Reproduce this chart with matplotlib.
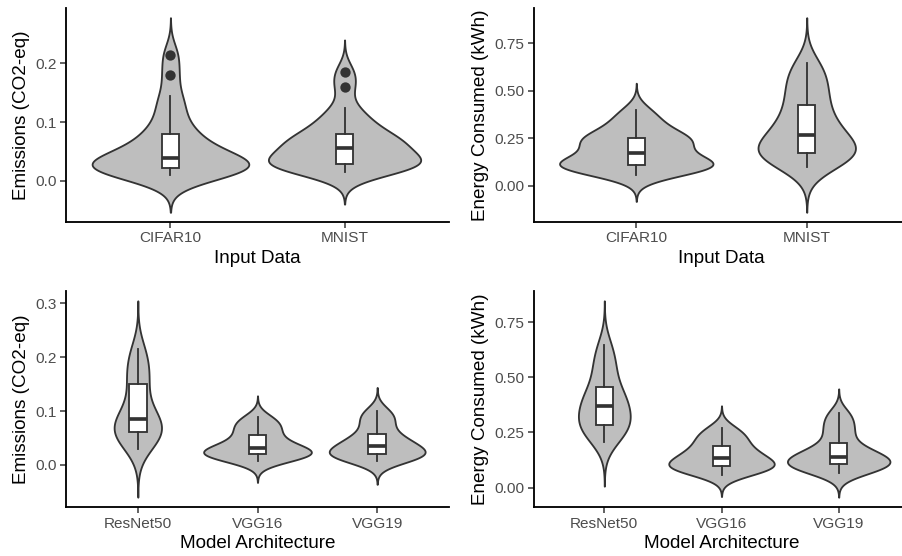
import numpy as np
import matplotlib
matplotlib.use("Agg")
import matplotlib.pyplot as plt

plt.rcParams['font.family'] = ['Liberation Sans', 'DejaVu Sans']

datasets = ["CIFAR10", "MNIST"]
models = ["ResNet50", "VGG16", "VGG19"]

# emissions (CO2-eq) per run, grouped by input data
emis_cifar10 = [0.009, 0.012, 0.015, 0.017, 0.019, 0.020, 0.0213, 0.024, 0.027, 0.030, 0.034, 0.036,
                0.040, 0.045, 0.052, 0.060, 0.068, 0.078, 0.086, 0.105, 0.125, 0.145, 0.180, 0.215]
emis_mnist = [0.0145, 0.018, 0.021, 0.024, 0.027, 0.028, 0.0295, 0.032, 0.035, 0.040, 0.046, 0.053,
              0.058, 0.062, 0.066, 0.070, 0.074, 0.077, 0.090, 0.098, 0.108, 0.1245, 0.160, 0.1855]

# energy consumed (kWh) per run, grouped by input data
energy_cifar10 = [0.057, 0.070, 0.082, 0.092, 0.100, 0.106, 0.110, 0.116, 0.122, 0.130, 0.140, 0.160,
                  0.184, 0.200, 0.215, 0.230, 0.242, 0.250, 0.258, 0.275, 0.300, 0.330, 0.360, 0.400]
energy_mnist = [0.098, 0.120, 0.140, 0.155, 0.165, 0.170, 0.175, 0.182, 0.195, 0.215, 0.240, 0.260,
                0.276, 0.295, 0.320, 0.350, 0.385, 0.415, 0.460, 0.490, 0.530, 0.570, 0.610, 0.646]

# emissions per run, grouped by model
emis_resnet50 = [0.030, 0.045, 0.053, 0.058, 0.0625, 0.067, 0.074, 0.082,
                 0.089, 0.100, 0.120, 0.148, 0.160, 0.178, 0.198, 0.215]
emis_vgg16 = [0.007, 0.012, 0.016, 0.019, 0.0217, 0.023, 0.025, 0.028,
              0.034, 0.038, 0.045, 0.054, 0.064, 0.071, 0.080, 0.089]
emis_vgg19 = [0.007, 0.011, 0.015, 0.018, 0.0207, 0.023, 0.026, 0.031,
              0.038, 0.042, 0.047, 0.054, 0.0665, 0.080, 0.090, 0.101]

# energy per run, grouped by model
energy_resnet50 = [0.206, 0.240, 0.262, 0.280, 0.288, 0.310, 0.335, 0.355,
                   0.384, 0.400, 0.420, 0.445, 0.500, 0.545, 0.590, 0.648]
energy_vgg16 = [0.059, 0.070, 0.082, 0.092, 0.099, 0.104, 0.112, 0.125,
                0.140, 0.150, 0.165, 0.180, 0.206, 0.222, 0.245, 0.271]
energy_vgg19 = [0.065, 0.078, 0.088, 0.098, 0.1085, 0.114, 0.122, 0.132,
                0.145, 0.155, 0.170, 0.190, 0.230, 0.265, 0.300, 0.339]

emis_ticks_top = [0.0, 0.1, 0.2]
emis_ticks_bottom = [0.0, 0.1, 0.2, 0.3]
energy_ticks = [0.0, 0.25, 0.5, 0.75]

LINE = '#333333'
FILL = '#BEBEBE'
LW = 1.1


def bw_nrd0(v): #same rule of thumb as R's density()
    q75, q25 = np.percentile(v, [75, 25])
    lo = min(np.std(v, ddof=1), (q75 - q25) / 1.34)
    return 0.9 * lo * len(v) ** -0.2


def density(vals):
    v = np.asarray(vals)
    bw = bw_nrd0(v)
    y = np.linspace(v.min() - 3 * bw, v.max() + 3 * bw, 512)
    d = np.exp(-0.5 * ((y[:, None] - v[None, :]) / bw) ** 2).sum(1) / (len(v) * bw * np.sqrt(2 * np.pi))
    return y, d


def violin_panel(ax, groups, labels, box_w, yticks, fmt, xlabel, ylabel):
    n = len(groups)
    dens = [density(g) for g in groups]
    dmax = max(d.max() for _, d in dens)
    for i, (y, d) in enumerate(dens):
        w = 0.45 * d / dmax
        ax.fill_betweenx(y, i + 1 - w, i + 1 + w, facecolor=FILL, edgecolor=LINE, linewidth=LW, zorder=1)

    ax.boxplot(groups, positions=range(1, n + 1), widths=box_w, patch_artist=True, showcaps=False,
               boxprops=dict(facecolor='white', edgecolor=LINE, linewidth=LW),
               whiskerprops=dict(color=LINE, linewidth=LW),
               medianprops=dict(color=LINE, linewidth=2 * LW),
               flierprops=dict(marker='o', markerfacecolor=LINE, markeredgecolor=LINE, markersize=5.2),
               zorder=2)

    lo = min(y.min() for y, _ in dens)
    hi = max(y.max() for y, _ in dens)
    pad = 0.05 * (hi - lo)
    ax.set_ylim(lo - pad, hi + pad)
    ax.set_xlim(0.4, n + 0.6)
    ax.set_xticks(range(1, n + 1), labels)
    ax.set_yticks(yticks, [fmt.format(t) for t in yticks])

    for s in ['top', 'right']:
        ax.spines[s].set_visible(False)
    for s in ['left', 'bottom']:
        ax.spines[s].set_linewidth(LW)
        ax.spines[s].set_color('black')
    ax.tick_params(length=3.5, width=0.9, color=LINE, labelsize=9.2, labelcolor='#4D4D4D', pad=2.2)
    ax.set_xlabel(xlabel, fontsize=11.3, labelpad=2.5)
    ax.set_ylabel(ylabel, fontsize=11.3, labelpad=3)


fig = plt.figure(figsize=(902 / 120, 556 / 120), dpi=120)
W, H = 902.0, 556.0

def place(x0, x1, y0, y1): #pixel box -> figure fractions
    return [x0 / W, 1 - y1 / H, (x1 - x0) / W, (y1 - y0) / H]

ax1 = fig.add_axes(place(66, 449, 8, 222))
ax2 = fig.add_axes(place(534, 909, 8, 222))
ax3 = fig.add_axes(place(66, 449, 291, 507))
ax4 = fig.add_axes(place(534, 909, 291, 507))

violin_panel(ax1, [emis_cifar10, emis_mnist], datasets, 0.1, emis_ticks_top, "{:.1f}",
             "Input Data", "Emissions (CO2-eq)")
violin_panel(ax2, [energy_cifar10, energy_mnist], datasets, 0.1, energy_ticks, "{:.2f}",
             "Input Data", "Energy Consumed (kWh)")
violin_panel(ax3, [emis_resnet50, emis_vgg16, emis_vgg19], models, 0.15, emis_ticks_bottom, "{:.1f}",
             "Model Architecture", "Emissions (CO2-eq)")
violin_panel(ax4, [energy_resnet50, energy_vgg16, energy_vgg19], models, 0.15, energy_ticks, "{:.2f}",
             "Model Architecture", "Energy Consumed (kWh)")

fig.savefig("out.png", dpi=120)
